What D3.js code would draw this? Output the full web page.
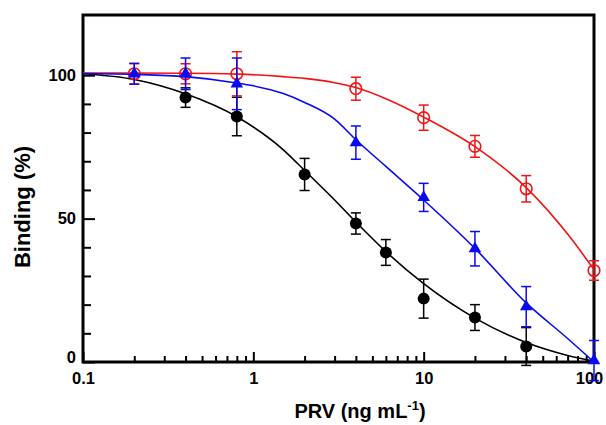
<!doctype html>
<html lang="en">
  <head>
    <meta charset="UTF-8" />
    <title>Binding vs PRV</title>
    <script src="https://d3js.org/d3.v7.min.js"></script>
    <style>
      body { margin: 0; background: #fff; }
      text { font-family: "Liberation Sans", Arial, sans-serif; font-weight: bold; }
    </style>
  </head>
  <body>
    <div id="graph"></div>
    <script>
    // measured points: [concentration, binding %, error]
    var blackPts = [[0.4, 92.2, 3.4], [0.8, 85.6, 6.7], [2, 65.4, 5.6], [4, 48.3, 3.7],
                    [6, 38.2, 4.5], [10, 22.1, 6.8], [20, 15.5, 4.5], [40, 5.4, 6.6]];
    var bluePts = [[0.2, 100.5, 3.6], [0.4, 100.5, 5.5], [0.8, 97, 9], [4, 76.5, 5.8],
                   [10, 57.4, 4.9], [20, 39.5, 6], [40, 19.3, 7], [100, 0.5, 7]];
    var redPts = [[0.2, 100.5, 3.6], [0.4, 100.5, 3.5], [0.8, 100.5, 7.7], [4, 95.3, 4],
                  [10, 85.2, 4.4], [20, 75.2, 3.8], [40, 60.4, 4.6], [100, 31.9, 3.4]];

    // fitted curves
    var blackCurve = [[0.1, 100.5], [0.2, 98.5], [0.4, 93.5], [0.8, 85.5], [1.5, 74], [2, 66.8],
                      [3, 56.5], [4, 48.8], [6, 38.5], [10, 27.3], [20, 15.3], [40, 6.8], [70, 2.3], [100, 0.3]];
    var blueCurve = [[0.1, 100.6], [0.2, 100.3], [0.4, 99.5], [0.8, 97.3], [1, 96.3], [1.5, 93.6],
                     [2, 90.5], [3, 84.7], [4, 77.5], [6, 68.2], [10, 56.5], [20, 39.6], [40, 20.6],
                     [70, 8.2], [100, 0]];
    var redCurve = [[0.1, 100.8], [0.4, 100.7], [0.8, 100.4], [1.5, 99.5], [2, 98.9], [3, 97.4],
                    [4, 95.7], [6, 91.8], [10, 85.4], [20, 75.1], [40, 60.8], [70, 44.6], [100, 32.2]];

    var xMajor = [0.1, 1, 10, 100];
    var xMinor = [0.2, 0.3, 0.4, 0.5, 0.6, 0.7, 0.8, 0.9, 2, 3, 4, 5, 6, 7, 8, 9,
                  20, 30, 40, 50, 60, 70, 80, 90];
    var yMajor = [0, 50, 100];
    var yMinor = [10, 20, 30, 40, 60, 70, 80, 90];

    var width = 606, height = 425;
    var plotL = 83, plotR = 594, plotT = 15, plotB = 362;

    var svg = d3.select("#graph").append("svg")
        .attr("width", width)
        .attr("height", height);

    var x = d3.scaleLog().domain([0.1, 100]).range([plotL, plotR]);
    var y = d3.scaleLinear().domain([0, 121]).range([plotB, plotT]);

    // axes, ticks pointing inward
    svg.append("g")
        .attr("transform", "translate(0," + plotB + ")")
        .call(d3.axisBottom(x).tickValues(xMinor).tickSize(-6).tickFormat(""))
        .call(g => g.select(".domain").remove());
    var xAx = svg.append("g")
        .attr("transform", "translate(0," + plotB + ")")
        .call(d3.axisBottom(x).tickValues(xMajor).tickSize(-10).tickPadding(10)
              .tickFormat(d3.format("~g")));
    xAx.select(".domain").remove();
    xAx.selectAll("text").style("font-size", "16.5px").attr("fill", "#000")
        .attr("x", d => d === 100 ? -5 : 0);

    svg.append("g")
        .attr("transform", "translate(" + plotL + ",0)")
        .call(d3.axisLeft(y).tickValues(yMinor).tickSize(-8).tickFormat(""))
        .call(g => g.select(".domain").remove());
    var yAx = svg.append("g")
        .attr("transform", "translate(" + plotL + ",0)")
        .call(d3.axisLeft(y).tickValues(yMajor).tickSize(-12).tickPadding(7));
    yAx.select(".domain").remove();
    yAx.selectAll("text").style("font-size", "16.5px").attr("fill", "#000")
        .attr("y", d => d === 0 ? -5 : 0);
    svg.selectAll(".tick line").attr("stroke", "#000").attr("stroke-width", 2);

    // frame
    svg.append("rect")
        .attr("x", plotL).attr("y", plotT)
        .attr("width", plotR - plotL).attr("height", plotB - plotT)
        .attr("fill", "none").attr("stroke", "#000").attr("stroke-width", 3);

    var line = d3.line()
        .x(d => x(d[0]))
        .y(d => y(d[1]))
        .curve(d3.curveMonotoneX);

    function drawSeries(curve, pts, color, shape) {
        var g = svg.append("g");
        g.append("path")
            .datum(curve)
            .attr("d", line)
            .attr("fill", "none")
            .attr("stroke", color)
            .attr("stroke-width", 1.6);

        var eb = g.selectAll(".eb").data(pts).enter().append("g");
        eb.append("line")
            .attr("x1", d => x(d[0])).attr("x2", d => x(d[0]))
            .attr("y1", d => y(d[1] + d[2])).attr("y2", d => y(d[1] - d[2]))
            .attr("stroke", color).attr("stroke-width", 1.5);
        [1, -1].forEach(function(s) {
            eb.append("line")
                .attr("x1", d => x(d[0]) - 5).attr("x2", d => x(d[0]) + 5)
                .attr("y1", d => y(d[1] + s * d[2])).attr("y2", d => y(d[1] + s * d[2]))
                .attr("stroke", color).attr("stroke-width", 1.5);
        });

        if (shape === "circle") {
            g.selectAll(".pt").data(pts).enter().append("circle")
                .attr("cx", d => x(d[0])).attr("cy", d => y(d[1]))
                .attr("r", 6)
                .attr("fill", color);
        } else if (shape === "open") {
            g.selectAll(".pt").data(pts).enter().append("circle")
                .attr("cx", d => x(d[0])).attr("cy", d => y(d[1]))
                .attr("r", 5.8)
                .attr("fill", "none")
                .attr("stroke", color).attr("stroke-width", 1.6);
        } else {
            g.selectAll(".pt").data(pts).enter().append("path")
                .attr("transform", d => "translate(" + x(d[0]) + "," + y(d[1]) + ")")
                .attr("d", d3.symbol().type(d3.symbolTriangle).size(68))
                .attr("fill", color);
        }
    }

    drawSeries(blackCurve, blackPts, "#000", "circle");
    drawSeries(redCurve, redPts, "#f01414", "open");
    drawSeries(blueCurve, bluePts, "#0a0af0", "triangle");

    // axis titles
    svg.append("text")
        .attr("transform", "translate(30,207) rotate(-90)")
        .attr("text-anchor", "middle")
        .style("font-size", "22px")
        .text("Binding (%)");

    var xt = svg.append("text")
        .attr("x", 360).attr("y", 418)
        .attr("text-anchor", "middle")
        .style("font-size", "20px");
    xt.append("tspan").text("PRV (ng mL");
    xt.append("tspan").attr("dy", -8).style("font-size", "13px").text("-1");
    xt.append("tspan").attr("dy", 8).text(")");
    </script>
  </body>
</html>
